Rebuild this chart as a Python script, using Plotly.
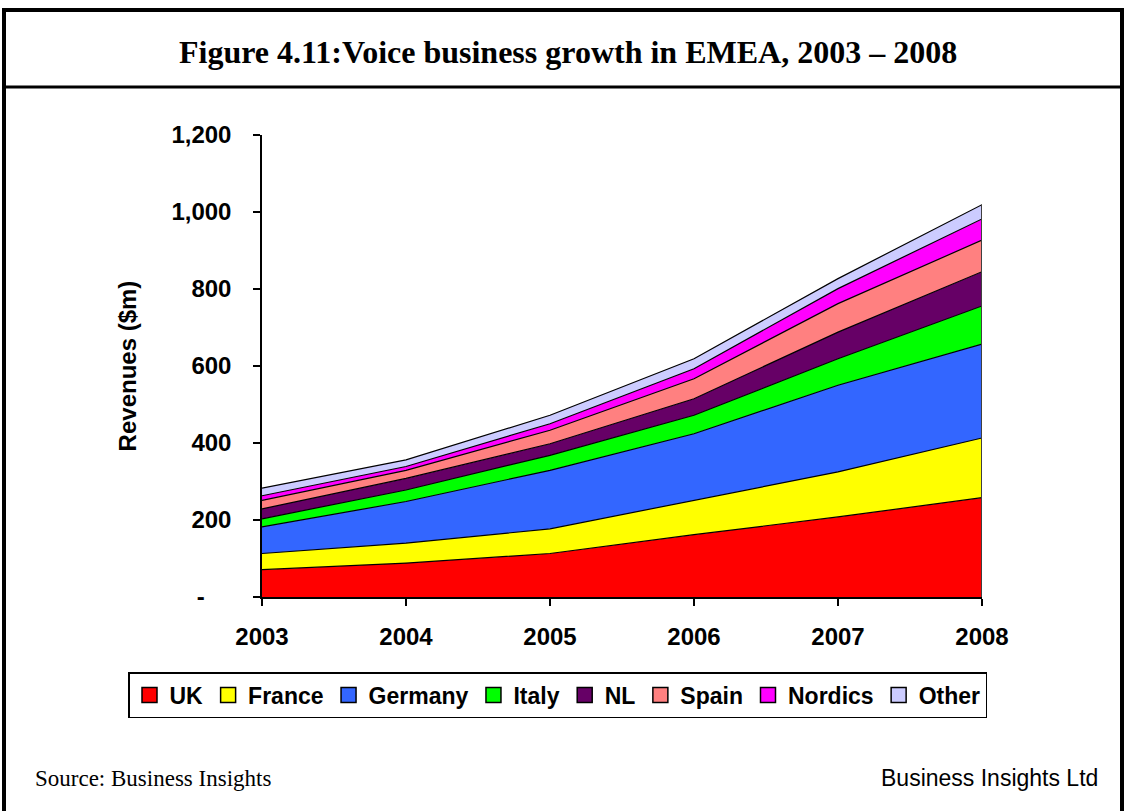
import plotly.graph_objects as go

# Revenues ($m) by country, stacked
years = [2003, 2004, 2005, 2006, 2007, 2008]
uk      = [71, 88, 113, 162, 208, 258]
france  = [42, 52, 64, 89, 117, 155]
germany = [69, 108, 152, 173, 225, 244]
italy   = [21, 30, 39, 48, 69, 99]
nl      = [26, 30, 30, 43, 69, 89]
spain   = [22, 21, 35, 52, 74, 82]
nordics = [12, 10, 17, 26, 39, 55]
other   = [20, 17, 22, 26, 26, 37]

series_names = ["UK", "France", "Germany", "Italy", "NL", "Spain", "Nordics", "Other"]
series_values = [uk, france, germany, italy, nl, spain, nordics, other]
series_colors = ["#FF0000", "#FFFF00", "#3366FF", "#00FF00", "#660066",
                 "#FF8080", "#FF00FF", "#CCCCFF"]

y_tickvals = [0, 200, 400, 600, 800, 1000, 1200]
y_ticktext = ["-\u00a0\u00a0\u00a0\u00a0", "200", "400", "600", "800", "1,000", "1,200"]

W, H = 1125, 811
ML, MR, MT, MB = 262, 143, 135, 214
PW, PH = W - ML - MR, H - MT - MB


def px_x(px):
    return (px - ML) / PW


def px_y(py):
    return (H - MB - py) / PH


fig = go.Figure()

for name, vals, col in zip(series_names, series_values, series_colors):
    fig.add_trace(go.Scatter(
        x=years, y=vals, name=name, mode="lines", stackgroup="one",
        fillcolor=col, line=dict(color="black", width=1.2),
        showlegend=False, hoverinfo="x+y+name",
    ))

# legend entries drawn as square swatches
for name, col in zip(series_names, series_colors):
    fig.add_trace(go.Scatter(
        x=[None], y=[None], name=f"<b>{name}</b>", mode="markers",
        marker=dict(symbol="square", size=15, color=col,
                    line=dict(color="black", width=1.5)),
        showlegend=True,
    ))

# closing edge of the stack at the last year
total_last = sum(v[-1] for v in series_values)
fig.add_trace(go.Scatter(
    x=[years[-1], years[-1]], y=[0, total_last], mode="lines",
    line=dict(color="#404040", width=2), showlegend=False, hoverinfo="skip",
))

axis_font = dict(family="Liberation Sans, Arial, sans-serif", size=24, color="black")

fig.update_layout(
    width=W, height=H,
    margin=dict(l=ML, r=MR, t=MT, b=MB),
    paper_bgcolor="white", plot_bgcolor="white",
    font=dict(family="Liberation Sans, Arial, sans-serif", color="black"),
    xaxis=dict(
        range=[years[0], years[-1]], tickvals=years,
        ticktext=[f"<b>{y}</b>" for y in years],
        showgrid=False, zeroline=False, showline=True,
        linecolor="black", linewidth=1.5,
        ticks="outside", ticklen=7, tickwidth=1.5, tickcolor="black",
        tickfont=axis_font, ticklabelstandoff=10,
    ),
    yaxis=dict(
        range=[0, 1200], tickvals=y_tickvals,
        ticktext=[f"<b>{t}</b>" for t in y_ticktext],
        showgrid=False, zeroline=False, showline=True,
        linecolor="black", linewidth=1.5,
        ticks="outside", ticklen=7, tickwidth=1.5, tickcolor="black",
        tickfont=axis_font, ticklabelstandoff=17,
        title=dict(text="<b>Revenues ($m)</b>", font=axis_font, standoff=28),
    ),
    legend=dict(
        orientation="h", x=px_x(128), y=px_y(672),
        xanchor="left", yanchor="top", traceorder="normal",
        bgcolor="white", bordercolor="black", borderwidth=1.5,
        font=dict(family="Liberation Sans, Arial, sans-serif", size=23, color="black"),
        itemwidth=30, tracegroupgap=0,
    ),
    shapes=[
        # outer frame
        dict(type="rect", xref="paper", yref="paper",
             x0=px_x(4), x1=px_x(1122), y0=px_y(900), y1=px_y(10),
             line=dict(color="black", width=4), fillcolor="rgba(0,0,0,0)", layer="above"),
        # title divider
        dict(type="line", xref="paper", yref="paper",
             x0=px_x(4), x1=px_x(1122), y0=px_y(87), y1=px_y(87),
             line=dict(color="black", width=3)),
    ],
    annotations=[
        dict(text="<b>Figure 4.11:Voice business growth in EMEA, 2003 \u2013 2008</b>",
             xref="paper", yref="paper", x=px_x(568), y=px_y(52),
             xanchor="center", yanchor="middle", showarrow=False,
             font=dict(family="Liberation Serif, Times New Roman, serif", size=32, color="black")),
        dict(text="Source: Business Insights",
             xref="paper", yref="paper", x=px_x(33), y=px_y(778),
             xanchor="left", yanchor="middle", showarrow=False,
             font=dict(family="Liberation Serif, Times New Roman, serif", size=23, color="black")),
        dict(text="Business Insights Ltd",
             xref="paper", yref="paper", x=px_x(1100), y=px_y(778),
             xanchor="right", yanchor="middle", showarrow=False,
             font=dict(family="Liberation Sans, Arial, sans-serif", size=23, color="black")),
    ],
)

fig.write_html("out.html")
